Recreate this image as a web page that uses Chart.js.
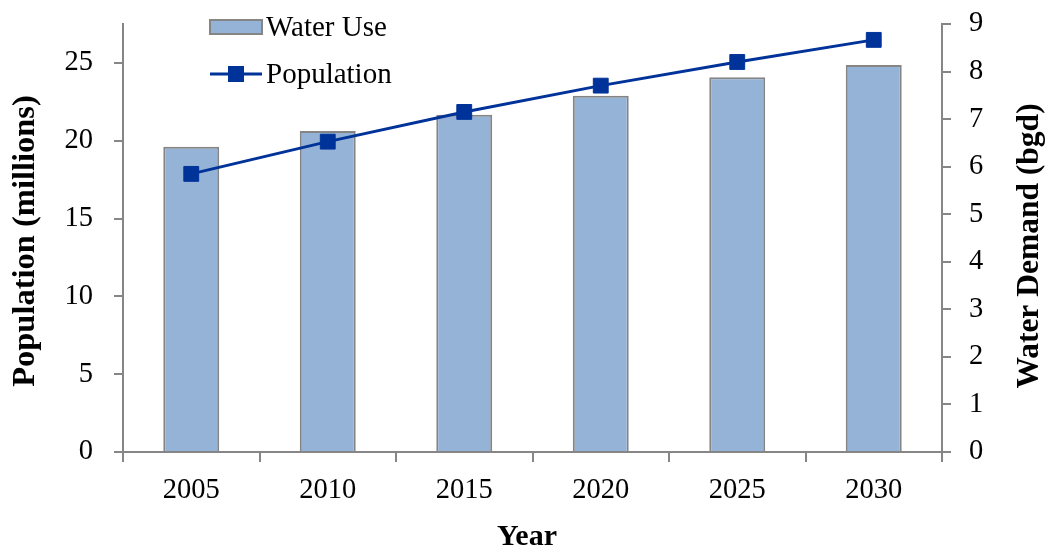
<!DOCTYPE html>
<html>
<head>
<meta charset="utf-8">
<script src="https://cdn.jsdelivr.net/npm/chart.js@4"></script>
<style>
  html, body { margin: 0; padding: 0; background: #fff; }
  #wrap { width: 1049px; height: 550px; }
</style>
</head>
<body>
<div id="wrap"><canvas id="chart" width="1049" height="550"></canvas></div>
<script>
var years = ["2005", "2010", "2015", "2020", "2025", "2030"];
var waterUse = [6.42, 6.75, 7.09, 7.49, 7.88, 8.14];        // bgd, right axis
var population = [17.87, 19.94, 21.85, 23.54, 25.06, 26.48]; // millions, left axis
var popTicks = [0, 5, 10, 15, 20, 25];

var SERIF = "'Liberation Serif', 'Times New Roman', serif";
var barFill = "#95b3d7";
var barEdge = "#858585";
var lineBlue = "#003399";
var axisGray = "#868686";

// legend + axis titles drawn on top (legend sits inside the plot in the original)
var extras = {
    id: "extras",
    afterDraw: function (chart) {
        var ctx = chart.ctx;
        ctx.save();
        // legend
        ctx.fillStyle = barFill;
        ctx.fillRect(210, 20, 52, 14);
        ctx.strokeStyle = barEdge;
        ctx.lineWidth = 2;
        ctx.strokeRect(210, 20, 52, 14);
        ctx.strokeStyle = lineBlue;
        ctx.lineWidth = 3;
        ctx.beginPath();
        ctx.moveTo(210, 74);
        ctx.lineTo(262, 74);
        ctx.stroke();
        ctx.fillStyle = lineBlue;
        ctx.fillRect(228, 66, 16, 16);
        ctx.fillStyle = "#000";
        ctx.font = "29px " + SERIF;
        ctx.textBaseline = "middle";
        ctx.textAlign = "left";
        ctx.fillText("Water Use", 266, 28);
        ctx.fillText("Population", 266, 75);

        // titles
        ctx.font = "bold 30px " + SERIF;
        ctx.textAlign = "center";
        ctx.fillText("Year", 527, 537);
        ctx.font = "bold 32.5px " + SERIF;
        ctx.translate(26, 241);
        ctx.rotate(-Math.PI / 2);
        ctx.fillText("Population (millions)", 0, 0);
        ctx.restore();
        ctx.save();
        ctx.font = "bold 31.5px " + SERIF;
        ctx.fillStyle = "#000";
        ctx.textAlign = "center";
        ctx.textBaseline = "middle";
        ctx.translate(1030, 246);
        ctx.rotate(-Math.PI / 2);
        ctx.fillText("Water Demand (bgd)", 0, 0);
        ctx.restore();
    }
};

function fixWidth(w) {
    return function (scale) {
        scale.width = w;
        scale.paddingTop = 0;
        scale.paddingBottom = 0;
    };
}

var ctx = document.getElementById("chart");
var myChart = new Chart(ctx, {
    type: "bar",
    data: {
        labels: years,
        datasets: [
            {
                type: "line",
                label: "Population",
                data: population,
                yAxisID: "yPop",
                borderColor: lineBlue,
                backgroundColor: lineBlue,
                borderWidth: 3,
                pointStyle: "rect",
                pointRadius: 10.5,
                pointBorderWidth: 1,
                pointBackgroundColor: lineBlue,
                pointBorderColor: lineBlue,
                tension: 0,
                order: 0
            },
            {
                type: "bar",
                label: "Water Use",
                data: waterUse,
                yAxisID: "yWater",
                backgroundColor: barFill,
                borderColor: barEdge,
                borderWidth: 2,
                categoryPercentage: 1.0,
                barPercentage: 0.41,
                order: 1
            }
        ]
    },
    options: {
        responsive: false,
        animation: false,
        layout: { padding: { top: 24, left: 0, right: 0, bottom: 0 } },
        plugins: {
            legend: { display: false },
            tooltip: { enabled: false }
        },
        scales: {
            x: {
                offset: true,
                border: { color: axisGray, width: 2 },
                grid: { offset: true, drawOnChartArea: false, drawTicks: true, tickLength: 10, tickColor: axisGray, lineWidth: 2 },
                ticks: { color: "#000", font: { family: SERIF, size: 28.5 }, padding: 11, maxRotation: 0 },
                afterFit: function (scale) {
                    scale.height = 98;
                    scale.paddingLeft = 0;
                    scale.paddingRight = 0;
                }
            },
            yPop: {
                position: "left",
                min: 0,
                max: 27.5,
                afterBuildTicks: function (scale) {
                    scale.ticks = popTicks.map(function (v) { return { value: v }; });
                },
                border: { color: axisGray, width: 2 },
                grid: { drawOnChartArea: false, drawTicks: true, tickLength: 9, tickColor: axisGray, lineWidth: 2 },
                ticks: { color: "#000", font: { family: SERIF, size: 28.5 }, padding: 21 },
                afterFit: fixWidth(123)
            },
            yWater: {
                position: "right",
                min: 0,
                max: 9,
                ticks: { stepSize: 1, color: "#000", font: { family: SERIF, size: 28.5 }, padding: 18 },
                border: { color: axisGray, width: 2 },
                grid: { drawOnChartArea: false, drawTicks: true, tickLength: 9, tickColor: axisGray, lineWidth: 2 },
                afterFit: fixWidth(107)
            }
        }
    },
    plugins: [extras]
});
</script>
</body>
</html>
